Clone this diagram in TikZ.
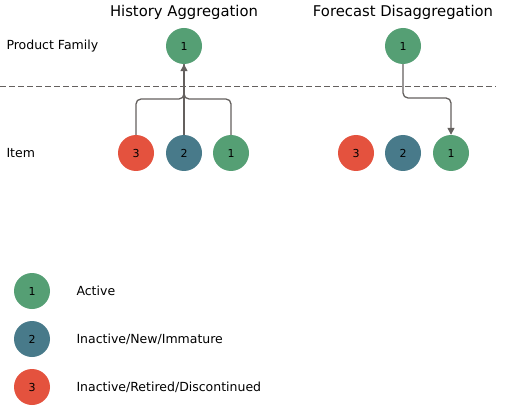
\documentclass[tikz,border=0pt]{standalone}
\usepackage{fontspec}
\setmainfont{DejaVu Sans}
\usepackage{tikz}
\usepackage{xcolor}
\usetikzlibrary{arrows.meta}
\definecolor{activegreen}{RGB}{85,159,116}
\definecolor{newblue}{RGB}{72,122,138}
\definecolor{retiredred}{RGB}{228,82,62}
\definecolor{linkgray}{RGB}{100,96,94}

\begin{document}
\begin{tikzpicture}[x=1pt, y=-1pt,
    dot/.style={circle, minimum size=36pt, inner sep=0pt, font=\fontsize{11}{13}\selectfont},
    active/.style={dot, fill=activegreen},
    immature/.style={dot, fill=newblue},
    retired/.style={dot, fill=retiredred},
    label/.style={font=\fontsize{12.5}{15}\selectfont},
    title/.style={font=\fontsize{14.8}{17}\selectfont},
    link/.style={draw=linkgray, line width=1.3pt, rounded corners=5pt},
    >={Triangle[length=7pt, width=7pt]}]
    \useasboundingbox (0,0) rectangle (508,406);

    % Column titles
    \node[title] (thist) at (184,12) {History Aggregation};
    \node[title] (tfore) at (403,12) {Forecast Disaggregation};

    % Level labels
    \node[label, anchor=west] (lfam) at (3,46) {Product Family};
    \node[label, anchor=west] (litem) at (3,153) {Item};

    % Level separator
    \draw[linkgray, line width=1pt, dash pattern=on 6pt off 3pt] (0,87) -- (496,87);

    % History aggregation
    \node[active] (hfam) at (184,46) {1};
    \node[retired] (hi3) at (136,153) {3};
    \node[immature] (hi2) at (184,153) {2};
    \node[active] (hi1) at (231,153) {1};
    \coordinate (hjoin) at (184,99);

    \draw[link] (hi3.north) |- (hjoin) -- (hfam.south);
    \draw[link] (hi1.north) |- (hjoin) -- (hfam.south);
    \draw[link, ->] (hi2.north) -- (hfam.south);

    % Forecast disaggregation
    \node[active] (ffam) at (403,46) {1};
    \node[retired] (fi3) at (356,153) {3};
    \node[immature] (fi2) at (403,153) {2};
    \node[active] (fi1) at (451,153) {1};
    \coordinate (fjoin) at (451,98);

    \draw[link, ->] (ffam.south) |- (fjoin) -- (fi1.north);

    % Legend
    \node[active] (key1) at (32,291) {1};
    \node[immature] (key2) at (32,339) {2};
    \node[retired] (key3) at (32,387) {3};
    \node[label, anchor=west] (txt1) at (73,291) {Active};
    \node[label, anchor=west] (txt2) at (73,339) {Inactive/New/Immature};
    \node[label, anchor=west] (txt3) at (73,387) {Inactive/Retired/Discontinued};
\end{tikzpicture}
\end{document}
